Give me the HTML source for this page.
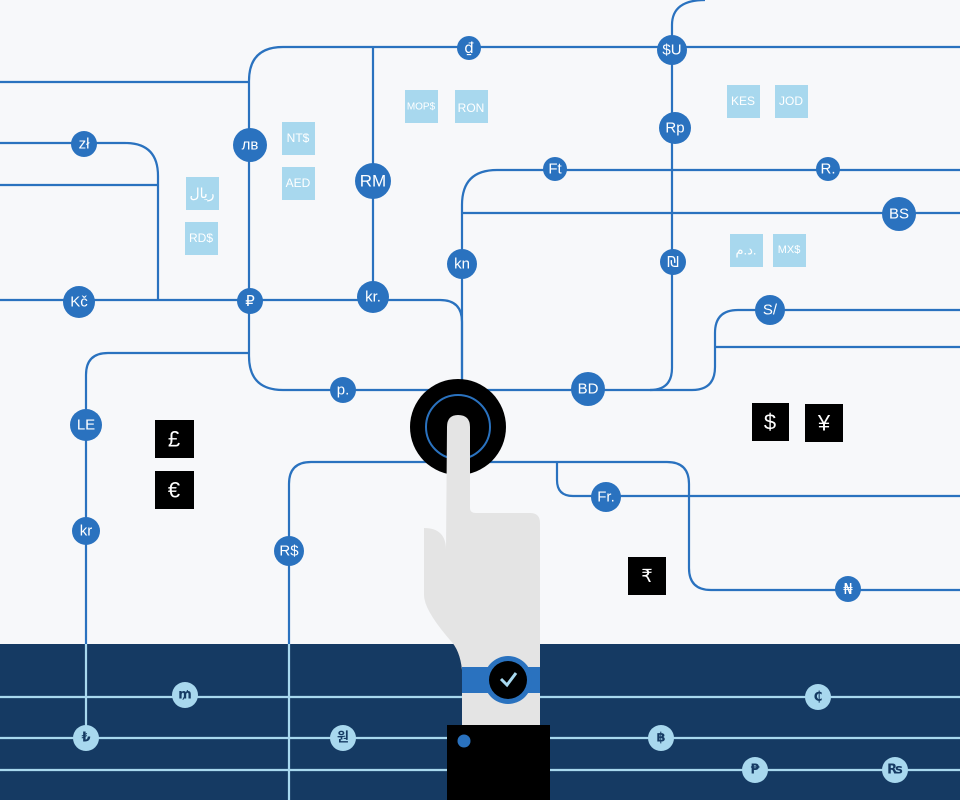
<!DOCTYPE html>
<html><head><meta charset="utf-8"><style>
html,body{margin:0;padding:0;background:#f7f8fa;}
svg{display:block;font-family:"Liberation Sans","DejaVu Sans","Noto Sans CJK KR",sans-serif;}
.l{fill:none;stroke:#2a72bf;stroke-width:2.2}
.b{fill:none;stroke:#a8d8ee;stroke-width:2.2}
.n{fill:#2a72bf}
.t{fill:#fff;font-size:15px;text-anchor:middle;dominant-baseline:central}
.lb{fill:#a8d8ee}
.lt{fill:#fff;font-size:12px;text-anchor:middle;dominant-baseline:central}
.bt{fill:#fff;font-size:22px;text-anchor:middle;dominant-baseline:central}
.dt{fill:#153a63;font-size:13px;text-anchor:middle;dominant-baseline:central;font-weight:bold;font-family:"DejaVu Sans","Noto Sans CJK KR",sans-serif}
</style></head><body>
<svg width="960" height="800" viewBox="0 0 960 800" xmlns="http://www.w3.org/2000/svg">
<rect width="960" height="800" fill="#f7f8fa"/>
<rect y="644" width="960" height="156" fill="#153a63"/>
<path class="l" d="M0,82H249M960,47H283Q249,47 249,81V356Q249,390 283,390H650Q672,390 672,368V47V25Q672,0 705,0"/>
<path class="l" d="M86,645V375Q86,353 108,353H249"/>
<path class="l" d="M0,143H125Q158,143 158,176V300M0,185H158"/>
<path class="l" d="M0,300H440Q462,300 462,322V390"/>
<path class="l" d="M373,47V300"/>
<path class="l" d="M462,390V205Q462,170 497,170H960M462,213H960"/>
<path class="l" d="M960,310H738Q715,310 715,333V367Q715,390 692,390H650"/>
<path class="l" d="M715,347H960"/>
<path class="l" d="M289,645V484Q289,462 311,462H667Q689,462 689,484V568Q689,590 711,590H960"/>
<path class="l" d="M557,462V480Q557,496 573,496H960"/>
<path class="b" d="M0,697H960M0,738H960M0,770H960M86,644V738M289,644V800"/>
<circle cx="458" cy="427" r="48" fill="#000"/>
<circle cx="458" cy="427" r="32" fill="none" stroke="#2a72bf" stroke-width="2"/>
<path fill="#e4e4e4" d="M447,427Q447,415 458,415Q470,415 470,427V508Q470,513 476,513H530Q540,513 540,523V725H462V670Q460,650 450,640Q424,610 424,595V528Q446,528 446,550Z"/>
<rect x="462" y="667" width="78" height="26" fill="#2a72bf"/>
<circle cx="508" cy="680" r="24" fill="#2a72bf"/>
<circle cx="508" cy="680" r="19" fill="#000"/>
<path d="M501,679L507,685L516,673" fill="none" stroke="#a8d8ee" stroke-width="3"/>
<rect x="447" y="725" width="103" height="75" fill="#000"/>
<circle cx="464" cy="741" r="6.5" fill="#2a72bf"/>
<g>
<rect class="lb" x="186" y="177" width="33" height="33"/><text class="lt" x="202" y="193" style="font-size:14px">ريال</text>
<rect class="lb" x="185" y="222" width="33" height="33"/><text class="lt" x="201" y="238">RD$</text>
<rect class="lb" x="282" y="122" width="33" height="33"/><text class="lt" x="298" y="138">NT$</text>
<rect class="lb" x="282" y="167" width="33" height="33"/><text class="lt" x="298" y="183">AED</text>
<rect class="lb" x="405" y="90" width="33" height="33"/><text class="lt" x="421" y="107" style="font-size:10px">MOP$</text>
<rect class="lb" x="455" y="90" width="33" height="33"/><text class="lt" x="471" y="108">RON</text>
<rect class="lb" x="727" y="85" width="33" height="33"/><text class="lt" x="743" y="101">KES</text>
<rect class="lb" x="775" y="85" width="33" height="33"/><text class="lt" x="791" y="101">JOD</text>
<rect class="lb" x="730" y="234" width="33" height="33"/><text class="lt" x="746" y="250" style="font-size:13px">د.م.</text>
<rect class="lb" x="773" y="234" width="33" height="33"/><text class="lt" x="789" y="250" style="font-size:11px">MX$</text>
</g>
<rect x="155" y="420" width="39" height="38"/><text class="bt" x="174" y="439">£</text>
<rect x="155" y="471" width="39" height="38"/><text class="bt" x="174" y="490">€</text>
<rect x="752" y="403" width="37" height="38"/><text class="bt" x="770" y="422">$</text>
<rect x="805" y="404" width="38" height="38"/><text class="bt" x="824" y="423">¥</text>
<rect x="628" y="557" width="38" height="38"/><text class="bt" x="647" y="576" style="font-size:18px">₹</text>
<g>
<circle class="n" cx="469" cy="48" r="12"/><text class="t" x="469" y="48" style="font-family:'DejaVu Sans',sans-serif">₫</text>
<circle class="n" cx="672" cy="50" r="15"/><text class="t" x="672" y="50">$U</text>
<circle class="n" cx="250" cy="145" r="17"/><text class="t" x="250" y="145">лв</text>
<circle class="n" cx="84" cy="144" r="13"/><text class="t" x="84" y="144">zł</text>
<circle class="n" cx="373" cy="181" r="18"/><text class="t" x="373" y="181" style="font-size:17px">RM</text>
<circle class="n" cx="675" cy="128" r="16"/><text class="t" x="675" y="128">Rp</text>
<circle class="n" cx="555" cy="169" r="12"/><text class="t" x="555" y="169">Ft</text>
<circle class="n" cx="828" cy="169" r="12"/><text class="t" x="828" y="169">R.</text>
<circle class="n" cx="899" cy="214" r="17"/><text class="t" x="899" y="214">BS</text>
<circle class="n" cx="462" cy="264" r="15"/><text class="t" x="462" y="264">kn</text>
<circle class="n" cx="673" cy="262" r="13"/><text class="t" x="673" y="262" style="font-family:'DejaVu Sans',sans-serif">₪</text>
<circle class="n" cx="79" cy="302" r="16"/><text class="t" x="79" y="302">Kč</text>
<circle class="n" cx="250" cy="301" r="13"/><text class="t" x="250" y="301" style="font-family:'DejaVu Sans',sans-serif">₽</text>
<circle class="n" cx="373" cy="297" r="16"/><text class="t" x="373" y="297">kr.</text>
<circle class="n" cx="770" cy="310" r="15"/><text class="t" x="770" y="310">S/</text>
<circle class="n" cx="343" cy="390" r="13"/><text class="t" x="343" y="390">p.</text>
<circle class="n" cx="588" cy="389" r="17"/><text class="t" x="588" y="389">BD</text>
<circle class="n" cx="86" cy="425" r="16"/><text class="t" x="86" y="425">LE</text>
<circle class="n" cx="86" cy="531" r="14"/><text class="t" x="86" y="531">kr</text>
<circle class="n" cx="289" cy="551" r="15"/><text class="t" x="289" y="551">R$</text>
<circle class="n" cx="606" cy="497" r="15"/><text class="t" x="606" y="497">Fr.</text>
<circle class="n" cx="848" cy="589" r="13"/><text class="t" x="848" y="589" style="font-family:'DejaVu Sans',sans-serif">₦</text>
</g>
<g fill="#a8d8ee">
<circle cx="185" cy="695" r="13"/><circle cx="86" cy="738" r="13"/><circle cx="343" cy="738" r="13"/>
<circle cx="661" cy="738" r="13"/><circle cx="818" cy="697" r="13"/><circle cx="755" cy="770" r="13"/><circle cx="895" cy="770" r="13"/>
</g>
<text class="dt" x="185" y="695">₥</text><text class="dt" x="86" y="738">₺</text><text class="dt" x="343" y="738">원</text>
<text class="dt" x="661" y="738">฿</text><text class="dt" x="818" y="697">₵</text><text class="dt" x="755" y="770">₱</text><text class="dt" x="895" y="770">₨</text>
</svg>
</body></html>
